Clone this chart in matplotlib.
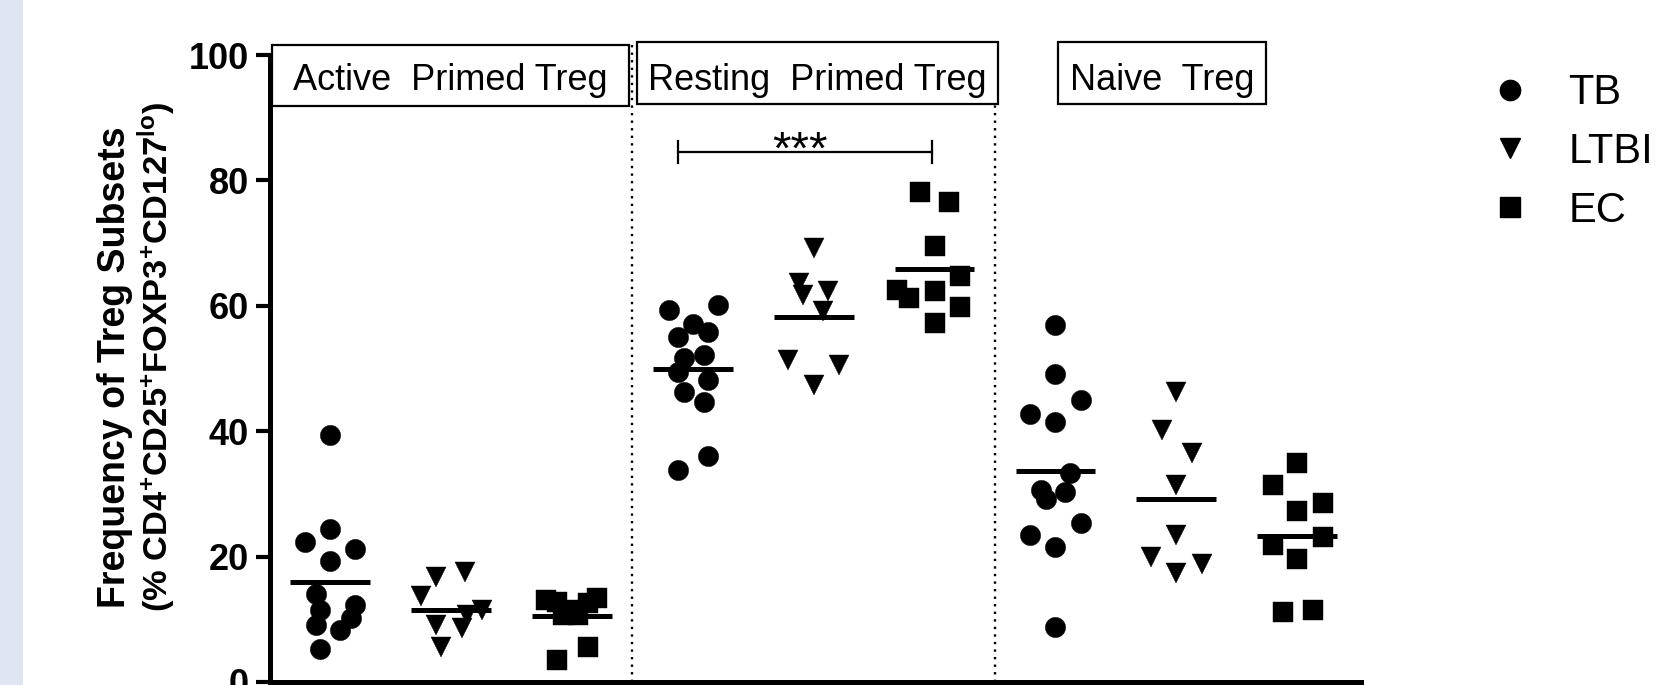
import matplotlib
matplotlib.use("Agg")
import matplotlib.pyplot as plt
from matplotlib.patches import Rectangle
from matplotlib.lines import Line2D

plt.rcParams['font.family'] = ['Liberation Sans', 'DejaVu Sans']
plt.rcParams['mathtext.fontset'] = 'custom'
plt.rcParams['mathtext.rm'] = 'Liberation Sans:bold'
plt.rcParams['mathtext.it'] = 'Liberation Sans:bold'
plt.rcParams['mathtext.bf'] = 'Liberation Sans:bold'

# subsets / cohorts
subsets = ["Active  Primed Treg", "Resting  Primed Treg", "Naive  Treg"]
cohorts = ["TB", "LTBI", "EC"]

# values (% of Treg) and horizontal scatter offsets (column units)
tb_active = [39.4, 24.4, 22.4, 21.2, 19.3, 14.1, 11.5, 9.1, 12.3, 10.2, 8.3, 5.2]
tb_active_dx = [0, 0, -0.21, 0.21, 0, -0.12, -0.08, -0.12, 0.21, 0.17, 0.08, -0.08]
ltbi_active = [16.7, 17.5, 13.7, 11.5, 10.7, 9.1, 8.6, 5.6]
ltbi_active_dx = [-0.12, 0.12, -0.25, 0.26, 0.13, -0.12, 0.09, -0.08]
ec_active = [13.1, 12.8, 11.5, 12.6, 13.4, 10.7, 10.7, 5.6, 3.5]
ec_active_dx = [-0.21, -0.12, -0.02, 0.13, 0.21, -0.07, 0.05, 0.13, -0.12]

tb_resting = [59.4, 60.1, 57.1, 55.0, 55.8, 51.6, 52.1, 49.4, 48.1, 46.3, 44.7, 36.1, 33.8]
tb_resting_dx = [-0.2, 0.21, 0, -0.12, 0.13, -0.07, 0.09, -0.12, 0.13, -0.07, 0.09, 0.13, -0.12]
ltbi_resting = [69.2, 63.7, 61.7, 62.3, 59.1, 51.4, 50.6, 47.4]
ltbi_resting_dx = [0, -0.12, -0.09, 0.12, 0.08, -0.21, 0.21, 0]
ec_resting = [78.1, 76.6, 69.5, 64.8, 62.6, 61.2, 62.3, 59.8, 57.3]
ec_resting_dx = [-0.12, 0.12, 0, 0.21, -0.31, -0.21, 0, 0.21, 0]

tb_naive = [57.0, 49.1, 45.0, 42.7, 41.5, 33.4, 30.6, 30.3, 29.2, 25.4, 23.4, 21.6, 8.8]
tb_naive_dx = [0, 0, 0.21, -0.21, 0, 0.12, -0.12, 0.08, -0.08, 0.21, -0.21, 0, 0]
ltbi_naive = [46.3, 40.2, 36.5, 31.5, 23.4, 19.9, 18.8, 17.4]
ltbi_naive_dx = [0, -0.12, 0.13, 0, 0, -0.21, 0.21, 0]
ec_naive = [35.0, 31.5, 28.5, 27.3, 23.1, 21.8, 19.6, 11.1, 11.5]
ec_naive_dx = [0, -0.2, 0.21, 0, 0.21, -0.2, 0, -0.12, 0.13]

# horizontal bars drawn in each column
mean_lines = [16.0, 11.5, 10.5, 50.0, 58.2, 65.8, 33.7, 29.2, 23.3]

columns = [
    (tb_active, tb_active_dx, "TB"), (ltbi_active, ltbi_active_dx, "LTBI"), (ec_active, ec_active_dx, "EC"),
    (tb_resting, tb_resting_dx, "TB"), (ltbi_resting, ltbi_resting_dx, "LTBI"), (ec_resting, ec_resting_dx, "EC"),
    (tb_naive, tb_naive_dx, "TB"), (ltbi_naive, ltbi_naive_dx, "LTBI"), (ec_naive, ec_naive_dx, "EC"),
]
markers = {"TB": ("o", 14.6), "LTBI": ("v", 14.4), "EC": ("s", 14.8)}

fig = plt.figure(figsize=(16.66, 6.85), dpi=100)
fig.add_artist(Rectangle((0, 0), 23 / 1666, 1, transform=fig.transFigure,
                         facecolor='#dde6f2', edgecolor='none', zorder=0))

ax = fig.add_axes([0.1621, 0.00438, 0.6549, 0.9153])

for i, (vals, dx, grp) in enumerate(columns):
    pos = i + 1
    m, ms = markers[grp]
    ax.plot([pos + d for d in dx], vals, ls='none', marker=m, ms=ms, mew=0.3,
            color='black', clip_on=False, zorder=3)
    ax.plot([pos - 0.33, pos + 0.33], [mean_lines[i], mean_lines[i]], color='black',
            lw=3.6, solid_capstyle='butt', zorder=4)

# dotted separators
for xs in (3.5, 6.5):
    ax.plot([xs, xs], [0, 101.6], color='black', lw=1.7, ls=(0, (1, 2.2)),
            clip_on=False, zorder=2)

# subset header boxes
boxes = [(0.52, 91.9, 2.95, 9.7), (3.54, 92.2, 2.985, 9.9), (7.02, 92.2, 1.72, 9.9)]
for (bx, by, bw, bh), name in zip(boxes, subsets):
    ax.add_patch(Rectangle((bx, by), bw, bh, facecolor='white', edgecolor='black',
                           lw=1.6, clip_on=False, zorder=5))
    ax.text(bx + bw / 2, 94.4, name, ha='center', va='baseline', fontsize=26, zorder=6)

# significance bracket
ax.plot([3.88, 5.98], [84.5, 84.5], color='black', lw=1.6)
for xe in (3.88, 5.98):
    ax.plot([xe, xe], [82.7, 86.3], color='black', lw=1.6)
ax.text(4.89, 82.7, '***', ha='center', va='baseline', fontsize=34)

ax.set_xlim(0.504, 9.528)
ax.set_ylim(0, 100)
ax.set_xticks([])
ax.set_yticks(range(0, 101, 20), labels=[str(t) for t in range(0, 101, 20)], fontweight='bold')
ax.tick_params(axis='y', length=10, width=3, pad=5, labelsize=26)
for s in ('top', 'right'):
    ax.spines[s].set_visible(False)
for s in ('left', 'bottom'):
    ax.spines[s].set_linewidth(3.6)

ax.text(-0.142, 0.5016, 'Frequency of Treg Subsets', transform=ax.transAxes, rotation=90,
        ha='center', va='center', fontsize=27, fontweight='bold')
ax.text(-0.1036, 0.518, r'(% CD4$^{+}$CD25$^{+}$FOXP3$^{+}$CD127$^{lo}$)', transform=ax.transAxes,
        rotation=90, ha='center', va='center', fontsize=24.8, fontweight='bold')

handles = [Line2D([], [], ls='none', marker=markers[g][0], ms=markers[g][1], color='black')
           for g in cohorts]
fig.legend(handles, cohorts, loc='upper left', bbox_to_anchor=(0.889, 0.893), frameon=False,
           fontsize=30, handlelength=1.4, handletextpad=0.69, labelspacing=0.45,
           borderpad=0, borderaxespad=0)

fig.savefig('out.png', dpi=100)
